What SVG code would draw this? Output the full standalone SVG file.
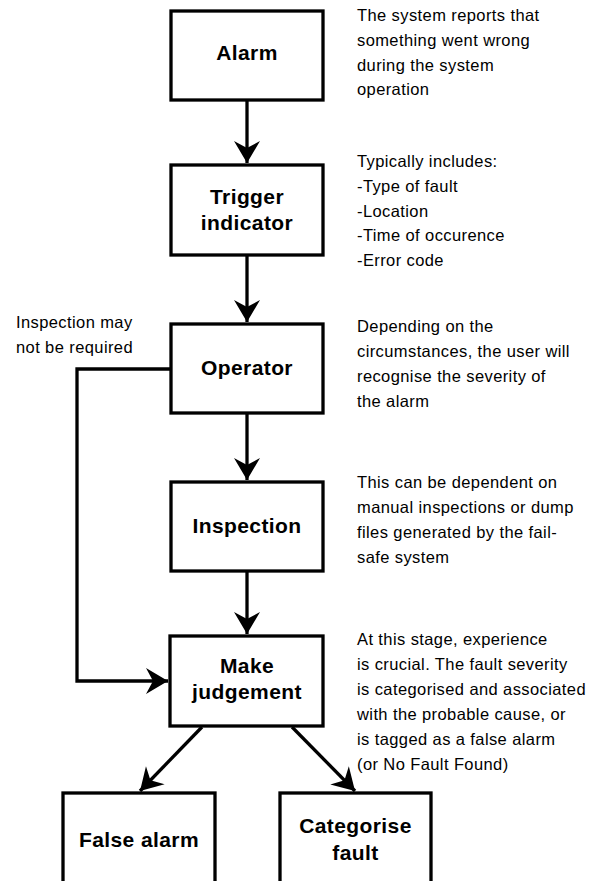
<svg xmlns="http://www.w3.org/2000/svg" width="597" height="881" viewBox="0 0 597 881">
<style>
.box{fill:#fff;stroke:#000;stroke-width:3.3}
.lbl{font-family:"Liberation Sans",Arial,sans-serif;font-weight:bold;font-size:21px;letter-spacing:0.4px;text-anchor:middle;fill:#000}
.note{font-family:"Liberation Sans",Arial,sans-serif;font-size:16.5px;letter-spacing:0.4px;fill:#000}
.con{fill:none;stroke:#000;stroke-width:3.3}
</style>
<defs>
<marker id="ah" markerUnits="userSpaceOnUse" markerWidth="30" markerHeight="30" viewBox="-24 -15 26 30" refX="0" refY="0" orient="auto">
<path d="M0,0 L-22,-13 L-15,0 L-22,13 Z" fill="#000"/>
</marker>
</defs>
<rect width="597" height="881" fill="#fff"/>
<g id="connectors">
<line class="con" x1="247" y1="101" x2="247" y2="163" marker-end="url(#ah)"/>
<line class="con" x1="247" y1="256" x2="247" y2="322" marker-end="url(#ah)"/>
<line class="con" x1="247" y1="414" x2="247" y2="480" marker-end="url(#ah)"/>
<line class="con" x1="247" y1="572" x2="247" y2="634" marker-end="url(#ah)"/>
<polyline class="con" points="170,369 77,369 77,681 168,681" marker-end="url(#ah)"/>
<line class="con" x1="202" y1="727" x2="140" y2="791" marker-end="url(#ah)"/>
<line class="con" x1="292" y1="727" x2="355" y2="791" marker-end="url(#ah)"/>
</g>
<g id="alarm"><rect class="box" x="171" y="11" width="152" height="89"/><text class="lbl" x="247" y="60">Alarm</text></g>
<g id="trigger"><rect class="box" x="171" y="165" width="152" height="90"/><text class="lbl" x="247" y="204">Trigger</text><text class="lbl" x="247" y="230">indicator</text></g>
<g id="operator"><rect class="box" x="171" y="324" width="152" height="89"/><text class="lbl" x="247" y="375">Operator</text></g>
<g id="inspection"><rect class="box" x="171" y="482" width="152" height="89"/><text class="lbl" x="247" y="533">Inspection</text></g>
<g id="judgement"><rect class="box" x="170" y="636" width="153" height="90"/><text class="lbl" x="247" y="673">Make</text><text class="lbl" x="247" y="699">judgement</text></g>
<g id="falsealarm"><rect class="box" x="63" y="793" width="152" height="110"/><text class="lbl" x="139" y="847">False alarm</text></g>
<g id="categorise"><rect class="box" x="280" y="793" width="151" height="110"/><text class="lbl" x="355.5" y="833">Categorise</text><text class="lbl" x="355.5" y="860">fault</text></g>
<g id="notes">
<text class="note" x="16" y="328">Inspection may</text>
<text class="note" x="16" y="353">not be required</text>
<text class="note" x="357" y="21">The system reports that</text>
<text class="note" x="357" y="46">something went wrong</text>
<text class="note" x="357" y="71">during the system</text>
<text class="note" x="357" y="95">operation</text>
<text class="note" x="357" y="167">Typically includes:</text>
<text class="note" x="357" y="192">-Type of fault</text>
<text class="note" x="357" y="217">-Location</text>
<text class="note" x="357" y="241">-Time of occurence</text>
<text class="note" x="357" y="266">-Error code</text>
<text class="note" x="357" y="332">Depending on the</text>
<text class="note" x="357" y="357">circumstances, the user will</text>
<text class="note" x="357" y="382">recognise the severity of</text>
<text class="note" x="357" y="407">the alarm</text>
<text class="note" x="357" y="488">This can be dependent on</text>
<text class="note" x="357" y="513">manual inspections or dump</text>
<text class="note" x="357" y="538">files generated by the fail-</text>
<text class="note" x="357" y="563">safe system</text>
<text class="note" x="357" y="645">At this stage, experience</text>
<text class="note" x="357" y="670">is crucial. The fault severity</text>
<text class="note" x="357" y="695">is categorised and associated</text>
<text class="note" x="357" y="720">with the probable cause, or</text>
<text class="note" x="357" y="745">is tagged as a false alarm</text>
<text class="note" x="357" y="770">(or No Fault Found)</text>
</g>
</svg>
